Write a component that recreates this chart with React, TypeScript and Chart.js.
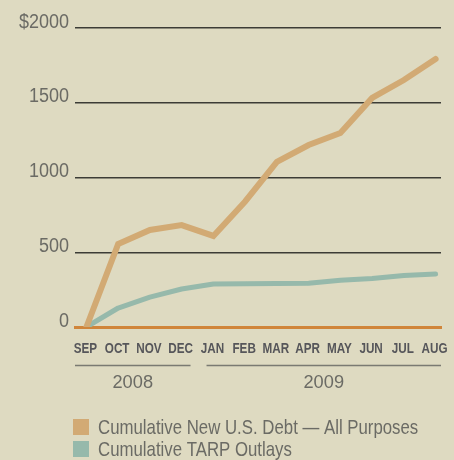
import { useEffect, useRef } from "react";
import { Chart, registerables } from "chart.js";

Chart.register(...registerables);

const months = ["SEP", "OCT", "NOV", "DEC", "JAN", "FEB", "MAR", "APR", "MAY", "JUN", "JUL", "AUG"];
const debtValues = [0, 555, 649, 682, 609, 840, 1104, 1217, 1298, 1532, 1652, 1793];
const tarpValues = [0, 127, 200, 254, 288, 290, 291, 293, 312, 325, 345, 354];
const yTicks = [0, 500, 1000, 1500, 2000];
const yearLabels = ["2008", "2009"];
const yearFirstMonth = [0, 4];
const yearLastMonth = [3, 11];
const seriesNames = ["Cumulative New U.S. Debt — All Purposes", "Cumulative TARP Outlays"];

const BG = "#dedac1";
const DEBT_COLOR = "#d2aa74";
const TARP_COLOR = "#96b9ab";
const AXIS_COLOR = "#d0853a";
const GRID_COLOR = "#3c3c36";
const TEXT_COLOR = "#6b6b65";
const MONTH_COLOR = "#56565a";
const FAMILY = "'Liberation Sans', Arial, sans-serif";

function drawNarrow(ctx: CanvasRenderingContext2D, text: string, x: number, y: number, align: CanvasTextAlign, scaleX: number) {
  ctx.save();
  ctx.translate(x, y);
  ctx.scale(scaleX, 1);
  ctx.textAlign = align;
  ctx.textBaseline = "middle";
  ctx.fillText(text, 0, 0);
  ctx.restore();
}

const decorPlugin = {
  id: "decor",
  afterDraw(chart: any) {
    const { ctx, chartArea, scales } = chart;
    const x = scales.x;
    const y = scales.y;
    ctx.save();

    // y tick labels (from the y scale's ticks)
    ctx.fillStyle = TEXT_COLOR;
    ctx.font = `20px ${FAMILY}`;
    y.ticks.forEach((t: any) => {
      const label = t.value === y.max ? "$" + t.value : String(t.value);
      drawNarrow(ctx, label, chartArea.left - 6, y.getPixelForValue(t.value) - 6, "right", 0.9);
    });

    // x tick labels (month names)
    ctx.fillStyle = MONTH_COLOR;
    ctx.font = `bold 15px ${FAMILY}`;
    x.ticks.forEach((t: any) => {
      drawNarrow(ctx, months[t.value], x.getPixelForValue(t.value) - 1, chartArea.bottom + 22, "center", 0.78);
    });

    // year group lines and labels
    const lineY = chartArea.bottom + 38.5;
    const textY = chartArea.bottom + 55.5;
    for (let i = 0; i < yearLabels.length; i++) {
      const first = yearFirstMonth[i];
      const last = yearLastMonth[i];
      const left = first === 0 ? chartArea.left : (x.getPixelForValue(first - 1) + x.getPixelForValue(first)) / 2 + 9;
      const right = last === months.length - 1 ? chartArea.right : (x.getPixelForValue(last) + x.getPixelForValue(last + 1)) / 2 - 7;
      ctx.strokeStyle = "#7a7a72";
      ctx.lineWidth = 1.5;
      ctx.beginPath();
      ctx.moveTo(left, lineY);
      ctx.lineTo(right, lineY);
      ctx.stroke();
      ctx.fillStyle = TEXT_COLOR;
      ctx.font = `19px ${FAMILY}`;
      drawNarrow(ctx, yearLabels[i], (left + right) / 2, textY, "center", 0.96);
    }

    // legend
    chart.data.datasets.forEach((ds: any, i: number) => {
      const cy = chartArea.bottom + 100 + i * 22;
      ctx.fillStyle = ds.borderColor;
      ctx.fillRect(chartArea.left - 2, cy - 8, 16, 16);
      ctx.fillStyle = TEXT_COLOR;
      ctx.font = `21px ${FAMILY}`;
      drawNarrow(ctx, ds.label, chartArea.left + 23, cy + 1, "left", 0.8);
    });
    ctx.restore();
  },
};

export default function App() {
  const canvasRef = useRef<HTMLCanvasElement | null>(null);

  useEffect(() => {
    if (!canvasRef.current) return;
    const chart = new Chart(canvasRef.current, {
      type: "line",
      data: {
        datasets: [
          {
            label: seriesNames[0],
            data: debtValues.map((v, i) => ({ x: i, y: v })),
            borderColor: DEBT_COLOR,
            backgroundColor: DEBT_COLOR,
            borderWidth: 6,
            pointRadius: 0,
            tension: 0,
            borderCapStyle: "round",
            borderJoinStyle: "miter",
          },
          {
            label: seriesNames[1],
            data: tarpValues.map((v, i) => ({ x: i, y: v })),
            borderColor: TARP_COLOR,
            backgroundColor: TARP_COLOR,
            borderWidth: 5,
            pointRadius: 0,
            tension: 0,
            borderCapStyle: "round",
            borderJoinStyle: "round",
          },
        ],
      },
      options: {
        animation: false,
        responsive: true,
        maintainAspectRatio: false,
        layout: { padding: { top: 28, right: 13, bottom: 0, left: 0 } },
        plugins: { legend: { display: false }, tooltip: { enabled: false } },
        scales: {
          x: {
            type: "linear",
            min: -0.36,
            max: 11.17,
            afterBuildTicks: (s: any) => {
              s.ticks = months.map((_, i) => ({ value: i }));
            },
            afterFit: (s: any) => {
              s.height = 133;
              s.paddingLeft = 0;
              s.paddingRight = 0;
            },
            grid: { display: false, drawTicks: false, tickLength: 0 },
            border: { display: true, color: AXIS_COLOR, width: 3 },
            ticks: { display: false, autoSkip: false },
          },
          y: {
            min: 0,
            max: 2000,
            afterBuildTicks: (s: any) => {
              s.ticks = yTicks.map((v) => ({ value: v }));
            },
            afterFit: (s: any) => {
              s.width = 75;
              s.paddingTop = 0;
              s.paddingBottom = 0;
            },
            grid: {
              color: (c: any) => (c.tick && c.tick.value === 0 ? "rgba(0,0,0,0)" : GRID_COLOR),
              lineWidth: 1.5,
              drawTicks: false,
              tickLength: 0,
            },
            border: { display: false },
            ticks: { display: false },
          },
        },
      },
      plugins: [decorPlugin],
    });
    return () => chart.destroy();
  }, []);

  return (
    <div style={{ position: "absolute", left: 0, top: 0, width: 454, height: 460, background: BG }}>
      <canvas ref={canvasRef} />
    </div>
  );
}
